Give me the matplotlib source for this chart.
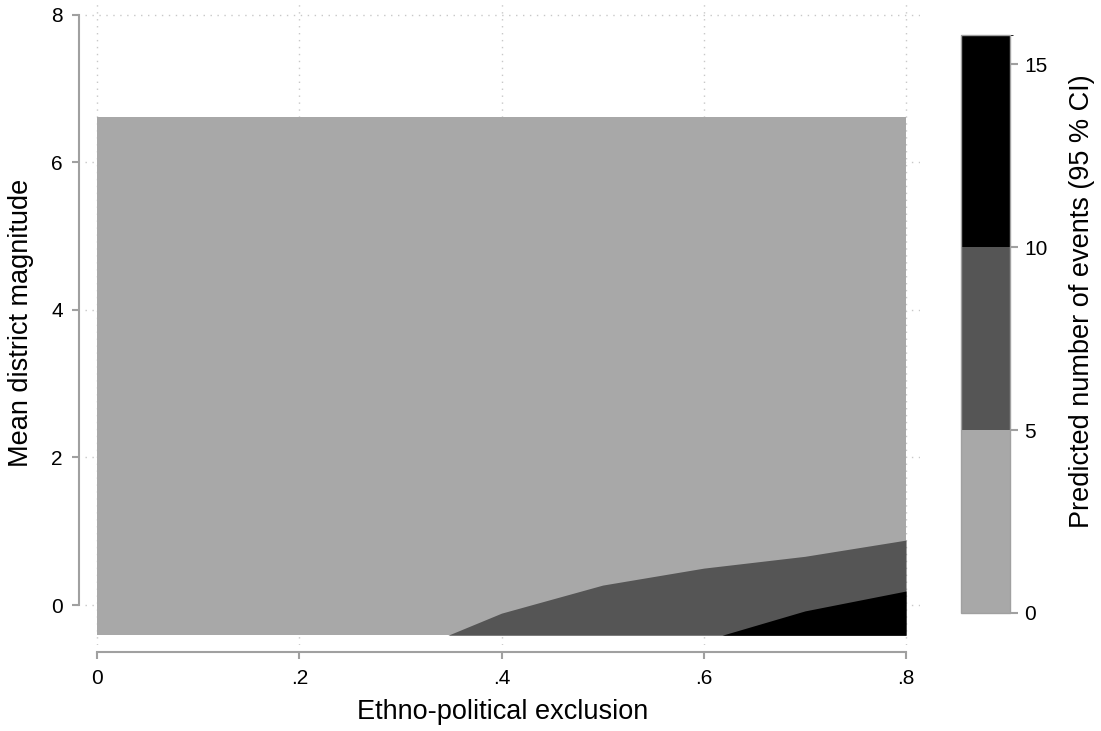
"""Predicted number of events by exclusion and district magnitude (contour bands)."""

import matplotlib

matplotlib.use("Agg")
import matplotlib.pyplot as plt
from matplotlib.colors import BoundaryNorm, ListedColormap
from matplotlib.cm import ScalarMappable

plt.rcParams["font.family"] = ["Liberation Sans", "DejaVu Sans"]

# extent of the predicted surface
X_RANGE = [0.0, 0.8]
Y_RANGE = [-0.41, 6.62]

# contour boundary for 5 events
b5_x = [0.347, 0.40, 0.50, 0.60, 0.70, 0.80]
b5_y = [-0.41, -0.11, 0.27, 0.50, 0.66, 0.88]

# contour boundary for 10 events
b10_x = [0.618, 0.70, 0.80]
b10_y = [-0.41, -0.08, 0.19]

levels = [0, 5, 10, 15.8]
band_colors = ["#a8a8a8", "#555555", "#000000"]

x_ticks = [0, 0.2, 0.4, 0.6, 0.8]
x_labels = ["0", ".2", ".4", ".6", ".8"]
y_ticks = [0, 2, 4, 6, 8]
cb_ticks = [0, 5, 10, 15]

AXIS_GRAY = "#a0a0a0"


def main() -> None:
    fig = plt.figure(figsize=(11.01, 7.31), dpi=100)
    ax = fig.add_axes([85 / 1101, 86 / 731, 835 / 1101, 645 / 731])

    ax.set_xlim(-0.0119, 0.8138)
    ax.set_ylim(-0.542, 8.2)

    # bands, lowest level first
    ax.fill_between(X_RANGE, Y_RANGE[0], Y_RANGE[1], color=band_colors[0],
                    linewidth=0, zorder=2)
    ax.fill_between(b5_x, Y_RANGE[0], b5_y, color=band_colors[1],
                    linewidth=0, zorder=3)
    ax.fill_between(b10_x, Y_RANGE[0], b10_y, color=band_colors[2],
                    linewidth=0, zorder=4)

    ax.set_xticks(x_ticks)
    ax.set_xticklabels(x_labels)
    ax.set_yticks(y_ticks)
    ax.grid(True, color="#c8c8c8", linestyle=(0, (1, 4)), linewidth=1.0, zorder=1)
    ax.set_axisbelow(True)

    for side in ("top", "right"):
        ax.spines[side].set_visible(False)
    ax.spines["left"].set_position(("outward", 4))
    ax.spines["bottom"].set_position(("outward", 5))
    ax.spines["left"].set_bounds(0, 8)
    ax.spines["bottom"].set_bounds(0, 0.8)
    for side in ("left", "bottom"):
        ax.spines[side].set_color(AXIS_GRAY)
        ax.spines[side].set_linewidth(1.5)
    ax.tick_params(axis="both", colors=AXIS_GRAY, labelcolor="black",
                   length=5, width=1.5, labelsize=15, pad=7)

    ax.set_xlabel("Ethno-political exclusion", fontsize=19.5, labelpad=8)
    ax.set_ylabel("Mean district magnitude", fontsize=19.5, labelpad=12)

    # colorbar
    cmap = ListedColormap(band_colors)
    norm = BoundaryNorm(levels, cmap.N)
    cax = fig.add_axes([961 / 1101, (731 - 613) / 731, 49 / 1101, 578 / 731])
    sm = ScalarMappable(norm=norm, cmap=cmap)
    cb = fig.colorbar(sm, cax=cax, ticks=cb_ticks, spacing="proportional")
    cb.outline.set_edgecolor(AXIS_GRAY)
    cb.outline.set_linewidth(1.0)
    cax.tick_params(colors=AXIS_GRAY, labelcolor="black", length=6, width=1.5,
                    labelsize=15, pad=4)
    cb.set_label("Predicted number of events (95 % CI)", fontsize=19.5)
    cax.yaxis.set_label_coords(2.2, 0.54)

    fig.savefig("out.png", dpi=100)
    plt.close(fig)


if __name__ == "__main__":
    main()
